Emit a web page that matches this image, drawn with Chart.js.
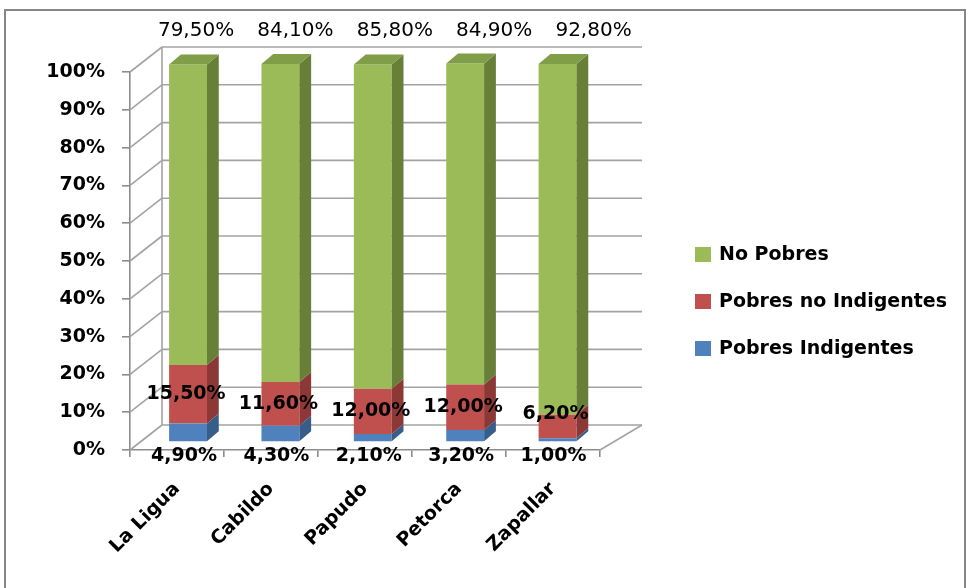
<!DOCTYPE html>
<html><head><meta charset="utf-8">
<script src="https://cdn.jsdelivr.net/npm/chart.js@4.4.1/dist/chart.umd.min.js"></script>
<style>html,body{margin:0;padding:0;background:#fff;overflow:hidden}canvas{display:block}</style>
</head><body>
<canvas id="c" width="968" height="588"></canvas>
<script>
// ---- data ----
const categories = ['La Ligua', 'Cabildo', 'Papudo', 'Petorca', 'Zapallar'];
const seriesNames = ['Pobres Indigentes', 'Pobres no Indigentes', 'No Pobres'];
const pobresIndigentes = [4.9, 4.3, 2.1, 3.2, 1.0];
const pobresNoIndigentes = [15.5, 11.6, 12.0, 12.0, 6.2];
const noPobres = [79.5, 84.1, 85.8, 84.9, 92.8];
const yTickValues = [0, 10, 20, 30, 40, 50, 60, 70, 80, 90, 100];

// ---- styles ----
const FRONT = ['#4F81BD', '#C0504D', '#9BBB59'];
const SIDE = ['#375D8A', '#8C3836', '#687F37'];
const TOP = ['#4A76AD', '#B04A47', '#809D47'];
const GRID = '#a3a3a3';
const AXIS = '#8c8c8c';
const FONT = '"DejaVu Sans", sans-serif';
// perspective of the bar plane relative to the front axis plane
const PA = 0.9827, PB = 14.1, PY = -8;
const BDX = 12, BDY = -10;           // bar depth
const WDX_L = 32, WDX_R = 42, WDY = -25; // wall depth

const fmt = v => v.toFixed(2).replace('.', ',') + '%';
const X = px => PA * px + PB;
const Y = py => py + PY;

function line(ctx, x1, y1, x2, y2) { ctx.beginPath(); ctx.moveTo(x1, y1); ctx.lineTo(x2, y2); ctx.stroke(); }
function poly(ctx, pts, color) {
  ctx.beginPath(); ctx.moveTo(pts[0][0], pts[0][1]);
  for (let i = 1; i < pts.length; i++) ctx.lineTo(pts[i][0], pts[i][1]);
  ctx.closePath(); ctx.fillStyle = color; ctx.fill();
}

const scene = {
  id: 'scene',
  beforeDraw(chart) {
    const ctx = chart.ctx;
    ctx.save();
    ctx.fillStyle = '#fff'; ctx.fillRect(0, 0, chart.width, chart.height);
    ctx.strokeStyle = '#868686'; ctx.lineWidth = 2;
    ctx.strokeRect(5, 10, 960, 620);
    ctx.restore();
  },
  beforeDatasetsDraw(chart) {
    const ctx = chart.ctx, ys = chart.scales.y, ca = chart.chartArea;
    ctx.save();
    ctx.strokeStyle = GRID; ctx.lineWidth = 1.6;
    yTickValues.forEach(v => {
      const py = ys.getPixelForValue(v);
      line(ctx, ca.left, py, ca.left + WDX_L, py + WDY);
      line(ctx, ca.left + WDX_L, py + WDY, ca.right + WDX_R, py + WDY);
    });
    line(ctx, ca.left + WDX_L, ys.getPixelForValue(100) + WDY, ca.left + WDX_L, ys.getPixelForValue(0) + WDY);
    line(ctx, ca.right, ca.bottom, ca.right + WDX_R, ca.bottom + WDY);
    ctx.restore();
    ctx.save();
    ctx.translate(PB, PY);
    ctx.scale(PA, 1);
  },
  afterDatasetsDraw(chart) {
    const ctx = chart.ctx;
    const n = chart.data.datasets.length;
    for (let d = 0; d < n; d++) {
      const meta = chart.getDatasetMeta(d);
      meta.data.forEach(bar => {
        const p = bar.getProps(['x', 'y', 'base', 'width'], true);
        const L = p.x - p.width / 2, R = p.x + p.width / 2;
        const top = Math.min(p.y, p.base), bot = Math.max(p.y, p.base);
        poly(ctx, [[R, top], [R + BDX, top + BDY], [R + BDX, bot + BDY], [R, bot]], SIDE[d]);
        if (d === n - 1) {
          poly(ctx, [[L, top], [L + BDX, top + BDY], [R + BDX, top + BDY], [R, top]], TOP[d]);
        }
      });
    }
    ctx.restore();
    // data labels
    const ys = chart.scales.y;
    const y0 = ys.getPixelForValue(0);
    ctx.save();
    ctx.fillStyle = '#000';
    ctx.textAlign = 'center';
    ctx.textBaseline = 'middle';
    chart.getDatasetMeta(2).data.forEach((bar, i) => {
      ctx.font = '20px ' + FONT;
      ctx.fillText(fmt(chart.data.datasets[2].data[i]), X(bar.x) + 8 + 7 * i, 31);
    });
    chart.getDatasetMeta(1).data.forEach((bar, i) => {
      ctx.font = 'bold 19px ' + FONT;
      const mid = Y((bar.y + bar.base) / 2);
      ctx.fillText(fmt(chart.data.datasets[1].data[i]), X(bar.x) - 2, Math.min(mid, Y(y0) - 28));
    });
    chart.getDatasetMeta(0).data.forEach((bar, i) => {
      ctx.font = 'bold 19px ' + FONT;
      ctx.fillText(fmt(chart.data.datasets[0].data[i]), X(bar.x) - 4, Y(y0) + 14);
    });
    ctx.restore();
  },
  afterDraw(chart) {
    // legend (top series first)
    const ctx = chart.ctx;
    ctx.save();
    ctx.font = 'bold 19px ' + FONT;
    ctx.textBaseline = 'middle';
    ctx.textAlign = 'left';
    const ds = chart.data.datasets;
    for (let k = 0; k < ds.length; k++) {
      const d = ds.length - 1 - k;
      const cy = 254 + k * 47;
      ctx.fillStyle = ds[d].backgroundColor;
      ctx.fillRect(695, cy - 7, 16, 15);
      ctx.fillStyle = '#000';
      ctx.fillText(ds[d].label, 719, cy + 1);
    }
    ctx.restore();
  }
};

const seriesValues = [pobresIndigentes, pobresNoIndigentes, noPobres];
new Chart(document.getElementById('c'), {
  type: 'bar',
  data: {
    labels: categories,
    datasets: seriesNames.map((name, i) => ({
      label: name,
      data: seriesValues[i],
      backgroundColor: FRONT[i],
      borderWidth: 0,
      barPercentage: 0.41,
      categoryPercentage: 1.0,
      clip: false
    }))
  },
  options: {
    responsive: false,
    animation: false,
    devicePixelRatio: 1,
    layout: { padding: { top: 72, right: 368, left: 0, bottom: 0 } },
    plugins: { legend: { display: false }, tooltip: { enabled: false } },
    scales: {
      x: {
        stacked: true,
        grid: { display: true, drawOnChartArea: false, drawTicks: true, tickLength: 7, color: AXIS, lineWidth: 1.6, offset: true },
        border: { display: true, color: AXIS, width: 1.6 },
        ticks: { color: '#000', font: { family: FONT, size: 19, weight: 'bold' }, minRotation: 45, maxRotation: 45, padding: 21, autoSkip: false },
        afterFit: s => { s.height = 138; }
      },
      y: {
        stacked: true,
        min: 0, max: 100,
        afterBuildTicks: s => { s.ticks = yTickValues.map(v => ({ value: v })); },
        grid: { display: true, drawOnChartArea: false, drawTicks: true, tickLength: 8, color: AXIS, lineWidth: 1.6 },
        border: { display: true, color: AXIS, width: 1.6 },
        ticks: { color: '#000', font: { family: FONT, size: 19, weight: 'bold' }, padding: 17, callback: v => v + '%' },
        afterFit: s => { s.width = 130; }
      }
    }
  },
  plugins: [scene]
});
</script>
</body></html>
